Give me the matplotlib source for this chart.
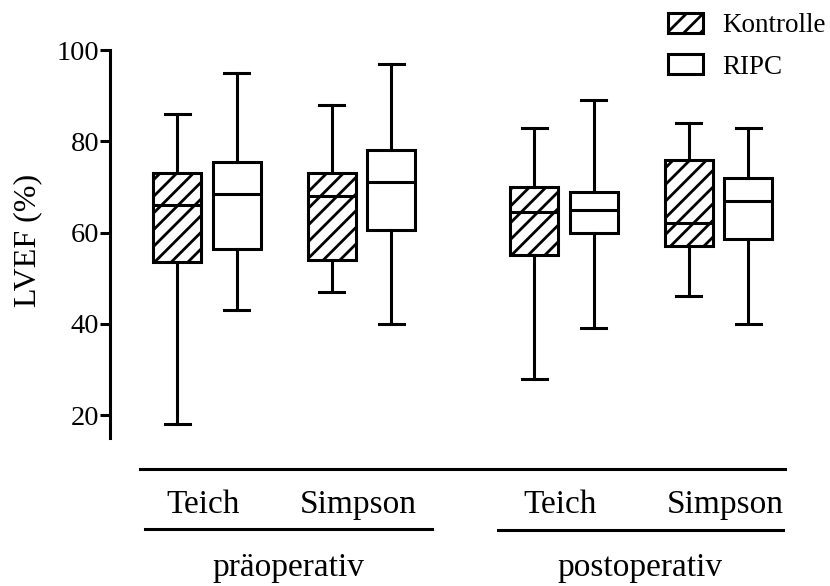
import matplotlib
matplotlib.use("Agg")
import matplotlib.pyplot as plt
from matplotlib.patches import Patch

plt.rcParams.update({
    "font.family": ["Liberation Serif", "DejaVu Serif"],
    "hatch.linewidth": 2.0, "hatch.color": "black",
})

# five-number summaries: (min, q1, median, q3, max)
methods = ["Teich", "Simpson"]
periods = ["präoperativ", "postoperativ"]
groups = ["Kontrolle", "RIPC"]
kontrolle = [(18, 53.5, 66, 73, 86), (47, 54, 68, 73, 88),
             (28, 55, 64.5, 70, 83), (46, 57, 62, 76, 84)]
ripc = [(43, 56.5, 68.5, 75.5, 95), (40, 60.5, 71, 78, 97),
        (39, 60, 65, 69, 89), (40, 58.5, 67, 72, 83)]
y_ticks = [20, 40, 60, 80, 100]

LW = 2.2
pos_k = [0, 2.6, 6.0, 8.6]
pos_r = [p + 1.0 for p in pos_k]


def to_stats(rows):
    return [dict(whislo=a, q1=b, med=c, q3=d, whishi=e, fliers=[]) for a, b, c, d, e in rows]


fig = plt.figure(figsize=(8.3, 5.86), dpi=100)
ax = fig.add_axes([110/830, 1 - 438/586, 680/830, 388/586])

common = dict(widths=0.807, capwidths=0.42, patch_artist=True, showfliers=False,
              medianprops=dict(color="black", lw=LW),
              whiskerprops=dict(color="black", lw=LW),
              capprops=dict(color="black", lw=LW))
ax.bxp(to_stats(kontrolle), positions=pos_k,
       boxprops=dict(facecolor="white", edgecolor="black", lw=LW, hatch="//"), **common)
ax.bxp(to_stats(ripc), positions=pos_r,
       boxprops=dict(facecolor="white", edgecolor="black", lw=LW), **common)

ax.set_xlim(-1.126, 10.30)
ax.set_ylim(15, 100)
ax.set_yticks(y_ticks)
ax.set_xticks([])
for s in ["top", "right", "bottom"]:
    ax.spines[s].set_visible(False)
ax.spines["left"].set_linewidth(LW)
ax.tick_params(axis="y", length=7, width=LW, pad=0.8, labelsize=20.5)
ax.set_ylabel("LVEF (%)", fontsize=23, va="center")
ax.yaxis.set_label_coords(-0.1206, 0.508)

# category lines and labels below the plot
tr = ax.get_xaxis_transform()
ax.plot([-0.62, 10.22], [-0.08, -0.08], color="black", lw=LW, transform=tr, clip_on=False)
ax.plot([-0.54, 4.29], [-0.235, -0.235], color="black", lw=LW, transform=tr, clip_on=False)
ax.plot([5.39, 10.18], [-0.237, -0.237], color="black", lw=LW, transform=tr, clip_on=False)
for x, lab in zip([0.43, 3.05, 6.43, 9.22], methods * 2):
    ax.text(x, -0.173, lab, transform=tr, ha="center", va="center", fontsize=24)
for x, lab in zip([1.88, 7.78], periods):
    ax.text(x, -0.335, lab, transform=tr, ha="center", va="center", fontsize=24)

handles = [Patch(facecolor="white", edgecolor="black", lw=LW, hatch="//"),
           Patch(facecolor="white", edgecolor="black", lw=LW)]
fig.legend(handles, groups, loc="upper left", bbox_to_anchor=(668/830, 1 - 13/586),
           frameon=False, fontsize=19.5, borderpad=0, borderaxespad=0,
           handlelength=1.29, handleheight=0.76, handletextpad=0.72, labelspacing=0.58)

fig.savefig("out.png", dpi=100)
